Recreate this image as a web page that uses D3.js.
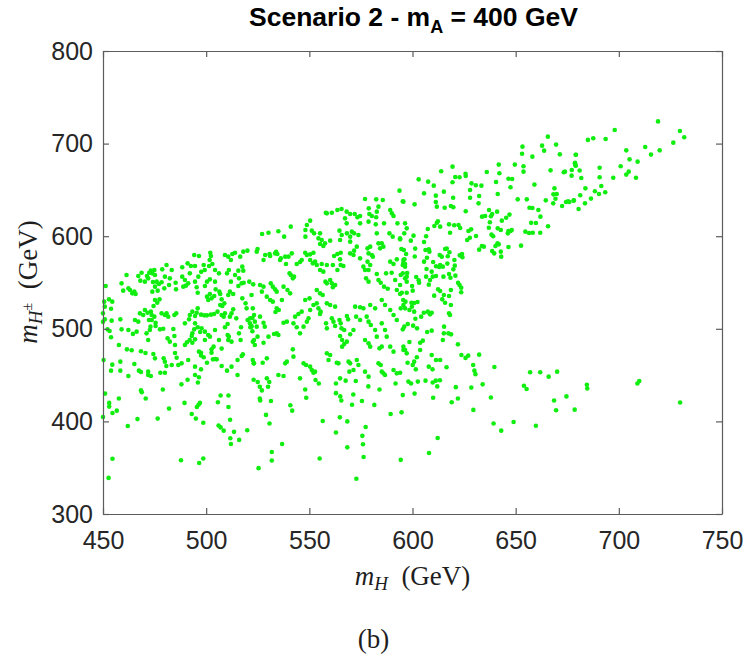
<!DOCTYPE html>
<html>
<head>
<meta charset="utf-8">
<script src="https://cdn.jsdelivr.net/npm/d3@7"></script>
<style>
  body { margin: 0; background: #ffffff; }
  svg { display: block; }
</style>
</head>
<body>
<svg id="chart" width="747" height="663"></svg>
<script>
// Axis ticks
const xTicks = [450, 500, 550, 600, 650, 700, 750];
const yTicks = [300, 400, 500, 600, 700, 800];

// Scan points [m_H, m_H±] in GeV, grouped by region of the plane
const upperBranch = [
  [719,724],[729.6,713.6],[731.7,706.8],[726.4,701],[698,714.7],[693.6,705],[687.6,705.7],[685,704],
  [679.2,688],[678.7,678.7],[679,676.5],[681,671],[677.1,665.4],[673.9,669.7],[681.8,662.9],[690.7,674],
  [690.7,663.6],[683.8,651.7],[691.5,654.2],[688.4,648.5],[690.4,645.6],[693.4,647.4],[681.3,644.2],
  [686.5,640.6],[678.1,638.4],[676,637],[674.4,637],[680.5,629.4],[683.6,635.5],[697.3,663.2],
  [700.9,675.5],[703.6,692.7],[705.2,683],[703.6,666.5],[704.8,669.7],[709.1,680.5],[708.3,663.2],
  [712.8,696.3],[715.6,688.1],[719.8,692.7]
];

const rightBand = [
  [665.6,707.5],[653.3,696.7],[653.1,689.1],[662.8,697.8],[663.8,692.4],[669.6,698.9],[658.1,685.9],
  [671.4,688.4],[679.1,688],[641.8,677.3],[649.6,677.3],[653.8,675.5],[653.8,669.7],[666.9,671.1],
  [673.3,669],[677.2,671.5],[678.8,679.4],[679.1,676.2],[619.4,675.1],[613.9,670.1],[636,669.3],
  [642.1,667.9],[625.7,667.5],[625.8,665],[603,661.4],[607.6,658.9],[610.3,654.6],[619.4,658.2],
  [620.7,663.9],[622.8,663.6],[628.6,657.1],[627.9,649.9],[630.7,655],[633.4,654.6],[640.5,658.5],
  [641.3,645.6],[646.5,662.1],[648.3,661.8],[659.1,655.7],[647.5,652.8],[668.8,651.7],[668.3,645.2],
  [669.9,645.6],[669.3,640.5],[615.2,648.1],[605.6,646.3],[611.3,643.8],[619.7,641.6],[627.9,641.6],
  [632.3,643.4],[651,639.8],[655.4,639.8],[664.6,638.7],[668.2,635.5],[672.5,632.6],[675.4,637.7],
  [678.2,638.7],[595.3,637.7],[601,634.4],[611.3,636.9],[611.8,631.9],[615.6,630.8],[618.6,632.6],
  [619.8,631.2],[625.8,626.9],[632,635.5],[633.7,621.1],[635.2,621.8],[638,621.5],[638.6,624],
  [637.1,628.3],[641,626.5],[645.4,620],[643.3,616.8],[647,623.3],[656.7,630.8],[658.1,630.5],
  [661,628.3],[662,621.1],[657.5,614.4],[659.8,614.3],[665.7,610.7],[656.5,603.5],[658.3,603.8],
  [661.9,603.8],[654.7,604.9],[652.6,589.8],[646.5,605.6],[647.5,605.6],[646.2,603.1],[648.1,606.7],
  [641.3,608.5],[642.8,606.7],[637,609.2],[639.1,599.9],[638.3,601.7],[641.2,592.3],[640.2,589.4],
  [641.8,591.2],[638.6,584],[639.6,581.5],[642.8,583.3],[643,577.9],[646.5,588.3],[633.6,589.4],
  [632.3,585.5],[634.6,588.7],[637.5,615],[628.4,607.4],[627.1,605.6],[627.8,598.4],[626.5,595.9],
  [630.8,600.2],[622.3,612.1],[623.1,608.9],[620.2,611.8],[617.7,612.8],[618.2,603.8],[613.4,610.3],
  [610.6,611],[612.3,616.1],[611.8,614.6],[607.4,607.8],[606.6,599.9],[605.6,593.8],[600.5,600.6],
  [599.2,595.2],[596,603.1],[594,596.6],[594.6,586.2],[595.8,585.1],[601.3,586.6],[601.1,578],
  [595.5,571.1],[596.1,575],[596.4,570],[594.3,558.1],[595.3,559.9],[597.2,556.3],[594,547.3],
  [597.4,560.3],[601.8,555.9],[603,552.4],[603.2,549.8],[599.8,546.2],[600.1,541.2],[597.2,539],
  [594.8,539],[596.6,529.3],[595.5,531.1],[599.5,528.2],[600.8,527.9],[602.4,528.9],[599.7,523.9],
  [598.5,520.3],[600.8,518.5],[594.3,522.1],[605.6,572.5],[606.8,564.6],[606.6,556.3],[607.9,547.7],
  [608.5,552.7],[609.8,556.3],[610.5,535.8],[612.4,542.6],[611.4,557],[609.3,561.7],[611.4,567.5],
  [613.4,568.9],[610,572.2],[607,576.8],[606.3,585.1],[607.9,585.8],[608.2,583.3],[613.2,579.7],
  [614.2,577.9],[615.8,586.2],[616.6,586.6],[612.9,566.8],[614.7,567.1],[616.9,570.4],[617.1,578.3],
  [617.9,582.6],[620.3,574.3],[622.9,579.3],[624,580.8],[624.2,577.2],[620.8,557.4],[622.1,549.8],
  [622.8,547.3],[623.6,544.4],[623.6,539.4],[620.5,568.2],[619.8,564.2],[617.7,559.2],[618.4,555.2],
  [615,556.3],[618.6,541.9],[617.7,535.4],[613.4,540.8],[615.2,536.5],[614.4,531.8],[615.8,528.2],
  [618.6,525.7],[617.7,516.7],[618.2,514.9],[615.3,502.3],[615.2,495.1],[614.7,487.9],[617.4,495.1],
  [618.7,494],[622,483.2],[607.4,518.5],[609.3,517.4],[608.5,515.6],[604.2,513.1],[605.5,517.4],
  [601.4,510.9],[600.3,503.4],[596,502.3],[595.3,499.4],[597.7,505.2],[602.2,500.5],[607.1,496.6],
  [609.3,498],[605,487.2],[603.7,485],[598.5,485.8],[595.6,477.1],[597.2,473.5],[603.7,477.1],
  [602.1,469.2],[600.8,464.5],[600.1,460.9],[601.6,456.2],[597.6,463.4],[609.3,471.7],[611.4,466.3],
  [607.9,459.1],[609.7,456.2],[613.4,466.3],[616.5,458.4],[623.7,471.7],[627,471],[625.7,468.6],
  [629.4,460.9],[632.3,472.1],[630,454.8],[630.5,451],[639.7,458.8],[657,453],[661.9,453],
  [666,448.3],[670.1,453.7]
];

const centralBand = [
  [577,640.2],[582.4,639.8],[585.6,639.1],[593.7,649.2],[595.6,637.3],[565.6,629.4],[568.1,626.5],
  [569.8,624],[572,624],[573.3,620.4],[574.6,621.8],[578.8,630.1],[579.1,624],[580.3,621.8],
  [583.5,631.9],[582.7,626.5],[582.4,620.4],[558,625.4],[567.3,619.3],[568.1,613.9],[574.6,613.9],
  [578.7,615.7],[582.2,612.8],[586.2,613.9],[589.2,628.3],[590,624.7],[590.8,621.8],[592.7,613.9],
  [596.4,613.9],[597.2,608.5],[550.4,616.8],[548.8,612.1],[541,610.3],[537.8,599.5],[527.1,602.4],
  [530.2,603.8],[535,605.3],[548.1,606.7],[551.2,606],[552.3,603.1],[548.1,599.5],[555.2,603.1],
  [554.4,597.7],[556,595.9],[557.6,592.3],[560.1,595.2],[555.2,591.6],[556.8,589.4],[564.6,606],
  [565.7,601.3],[564.9,595.9],[568.2,603.1],[569.8,599.5],[569.8,594.1],[570.6,604.9],[571.7,603.1],
  [573.8,601.3],[579.5,588.7],[578.2,586.9],[582.7,603.1],[583.5,592.3],[585.1,592.3],[585.9,588.7],
  [584.3,586.9],[588.8,603.1],[590.4,599.5],[594,597.7],[595.6,574.3],[596.9,580.8],[524.5,583.3],
  [524.9,586.1],[527.8,574.3],[528.6,579.7],[530.7,580.8],[531,578.6],[533.4,581.5],[533.9,583.2],
  [534.5,580.8],[536.2,576.1],[535.8,574.3],[538.3,577.9],[539.9,577.9],[541.5,581.5],[538.7,570],
  [543.9,570],[545.5,572.2],[546.3,574.3],[540.4,559.9],[541,558.1],[542.6,556.3],[542,554.5],
  [548,582.2],[548.8,579.7],[550.4,580.4],[552,582.2],[550.4,574.3],[551.7,570.7],[552.8,572.5],
  [553.6,568.9],[556,570],[558.5,568.9],[555.2,563.5],[556.8,561.7],[562,578.6],[563.6,580.8],
  [565.2,582.2],[564.9,575],[565.2,568.9],[566.5,567.8],[561.4,568.9],[563.6,563.5],[560.1,552.7],
  [557.8,550.9],[558.5,549.1],[560.9,549.1],[562.5,547.3],[561.4,544.8],[569.8,581.5],[571.4,579.7],
  [571.7,584.4],[573,588.7],[574.6,576.1],[576.2,567.1],[577,563.5],[578.7,581.5],[580.3,579.7],
  [580.8,577.9],[578.2,572.5],[579.5,568.9],[578.7,563.5],[577.5,554.5],[578.7,550.9],[582.7,559.2],
  [583.5,552.7],[584.6,549.8],[589.2,572.5],[590.8,570],[592.4,575],[595.3,568.9],[596.4,567.1],
  [587.2,559.9],[589.9,560.6],[591.6,552.7],[596.4,554.5],[597.2,550.9],[586.2,545.5],[588,543.3],
  [592.4,541.9],[594,537.6],[526.1,547.3],[527.8,545.5],[527,540.1],[529.4,534.7],[531.3,549.1],
  [532.3,545.5],[533.4,542.6],[534.2,540.1],[537.5,545.5],[539.4,541.9],[540.7,538.3],[531,531.1],
  [532.3,529.3],[534.2,522.1],[533.6,518.1],[535.2,520.3],[536.7,531.1],[522.6,522.1],[523.2,514.9],
  [523.6,507.7],[524.5,502.3],[521.3,511.3],[521.9,502.3],[526.1,513.1],[527.8,506.6],[528.4,502.3],
  [524.9,491.5],[522.6,486.1],[523.6,482.5],[527.8,485],[530.2,491.5],[532.9,494.4],[534.2,495.1],
  [535,493.3],[537.5,506.6],[539.1,507.7],[543.1,513.1],[544.7,516],[546.3,518.5],[542.3,505.9],
  [543.9,501.6],[545.5,495.1],[547.2,502.3],[548.8,507.7],[549.6,511.3],[550.4,520.3],[552,525.7],
  [553.6,527.5],[554.4,522.1],[555.5,518.5],[555.2,516],[548,531.1],[550.1,532.9],[553.6,541.9],
  [555.2,538.3],[556.5,536.5],[558.5,527.5],[560.1,525.7],[562.5,523.9],[560.9,511.3],[561.7,507.7],
  [562.5,503],[558.1,505.9],[558.5,500.5],[564.6,509.5],[565.2,505.9],[565.6,500.5],[566.9,498.7],
  [568.2,513.8],[568.8,510.2],[564.9,492.2],[565.9,487.9],[566.9,483.6],[565.9,480.7],[568.2,486.1],
  [569.8,494.1],[571.4,498.7],[572.2,523.9],[574.6,523.2],[576.2,522.1],[572.7,513.1],[574.6,509.5],
  [577.8,513.1],[578.7,507.7],[579.8,504.1],[579.5,525.7],[581.9,522.1],[585.1,531.1],[586.7,525.7],
  [589.2,520.3],[590.8,514.9],[592.4,509.5],[595.6,525.7],[596.4,522.1],[585.1,505.9],[586.7,498.7],
  [587.5,491.5],[581.9,498.7],[582.7,491.5],[577,487.9],[578.7,484.3],[579.5,480.7],[584,478.9],
  [585.1,480.7],[589.2,480.7],[590.8,475.3],[595.6,480.7],[596.4,477.1],[522.6,466.3],[523.2,462.7],
  [527.4,463.4],[529.4,468.1],[538.3,462.7],[539.1,464.5],[535,450.1],[537.5,449],[529.4,446.5],
  [564.9,446.5],[545.5,446.5],[542,477.8],[542.3,469.9],[547.2,462.7],[548.4,460.9],[550.4,459.1],
  [551.2,455.5],[552,452.6],[552.8,453.7],[558.5,473.5],[559.3,466.3],[560.1,471.7],[563.3,463.4],
  [564.1,462.7],[569,464.5],[569.8,462.7],[573,466.3],[573.8,460.9],[569.4,453.7],[571.4,455.5],
  [577,453.7],[578.7,448.3],[585.1,453.7],[585.9,451.9],[586.7,450.1],[583.5,462.7],[584.6,460.9],
  [590.8,455.5],[592.4,451.9],[594,452.6],[558.5,624.7],[560.9,625.4],[563.6,628.3]
];

const leftBand = [
  [494.2,579.7],[496.5,578.6],[502,582.2],[502.3,578.6],[501.7,574.3],[503,570],[501.4,567.8],
  [509.1,579.7],[510.7,577.9],[512.7,580.8],[514,582.2],[512,574.3],[516.5,577.9],[518,583.3],
  [520,584.4],[517.5,567.1],[518,562.8],[494.6,567.8],[498.8,568.9],[499.3,563.5],[488.4,566.4],
  [491,570.7],[492.6,567.8],[480.8,568.9],[478.7,564.2],[483.3,563.5],[474.9,563.5],[473.2,562.8],
  [472.4,560.6],[473.9,559.9],[475.2,558.1],[468.7,560.6],[467.1,557],[468.1,552],[470.3,550.9],
  [471.3,557],[471.9,554.5],[461.4,558.1],[459,549.1],[463.1,541.9],[462.3,543.7],[464.2,538.3],
  [465.2,540.1],[459.8,541.2],[465.8,537.6],[474.2,550.5],[476,550.9],[477.1,548.4],[478.4,550.2],
  [475.2,545.5],[473.9,540.1],[476.5,541.2],[479.7,543.7],[482,547.3],[485.4,542.6],[488.4,556.3],
  [489.7,552.7],[492.1,559.9],[491.3,549.1],[490.2,546.6],[494.6,550.9],[495.4,544.8],[496.2,556.3],
  [497.6,561.5],[500.4,550.9],[501.8,553.4],[499.4,546.2],[495.9,539],[504.3,550.9],[504.6,542.6],
  [501.8,537.6],[500.4,534.7],[502.6,532.9],[503.9,535.4],[501,531.1],[506.4,540.1],[506.8,537.6],
  [507.5,531.8],[512,550.9],[511.5,540.1],[510.7,536.5],[513.1,537.6],[515.6,546.2],[517.2,549.1],
  [518.2,549.8],[520.9,550.9],[522.8,548],[517.5,532.9],[519.1,527.5],[522,536.5],[451.3,546.2],
  [452.9,531.8],[450.6,529.3],[450.9,523.9],[454.5,529.3],[453.9,521.7],[450,516.7],[450.9,510.2],
  [450,507.5],[454.2,508.8],[452.2,499.4],[453.2,497.6],[458.4,510.2],[459,499.4],[453.9,490.8],
  [465.5,509.5],[467.1,507.7],[466.3,496.9],[467.9,516.7],[469.5,514.9],[470.3,520.3],[471.6,517.4],
  [472.3,509.5],[473.6,509.5],[473.2,518.5],[473.6,514.9],[474.9,513.1],[475.2,531.1],[476.3,528.2],
  [474.5,524.6],[477.4,531.8],[475.5,506.6],[475.5,503],[473,502.3],[472.7,498.7],[471.1,495.1],
  [471.9,487.9],[462.3,498.7],[464.5,494.5],[478.4,516.7],[480,514.9],[481.6,513.1],[480.8,516.7],
  [484.6,514.9],[485.5,516.7],[477.6,499.4],[479.2,500.1],[481.3,489.7],[482.4,486.1],[484.1,499.8],
  [484.6,492.2],[484.9,482.5],[489.7,505.9],[492.1,514.9],[491.7,510.2],[493.3,518.5],[494.6,513.8],
  [495.4,517.4],[495.9,522.1],[497.5,515.3],[499.1,514.5],[500.4,514.5],[502.3,515.3],[503.8,516],
  [505.5,518.5],[507.8,524.6],[508.8,527.5],[506.8,525.7],[507.5,514.9],[508.5,513.1],[509.1,516.7],
  [511.5,513.1],[512.3,516.7],[513.1,521],[514.6,511.3],[519.6,522.1],[520.1,509.5],[521.2,505.9],
  [522,503],[522.4,511.6],[494.6,505.9],[495.9,501.6],[494.2,499.4],[493.3,495.1],[493,492.2],
  [492,487.9],[493.3,485],[494.6,488.6],[497.8,500.5],[497.1,496.5],[499.4,487.9],[496.5,475.3],
  [497.5,471.3],[498.8,469.2],[497.5,474.2],[502.6,477.8],[502.6,474.2],[503.3,467],[504.3,467.4],
  [505.1,467],[507.5,478.6],[510.4,493.3],[511,491.5],[510.7,487.9],[506.2,487.9],[509.1,501.6],
  [510.4,505.2],[512.3,486.1],[515.9,495.1],[516.7,487.9],[516.9,501.6],[521.4,501.6],[522.4,497.3],
  [523.2,487.9],[515.2,466.3],[517.2,470.6],[517.8,472.4],[512.3,459.1],[510.1,454.8],[507.5,459.8],
  [523,462.7],[515.2,450.1],[500.4,463.4],[489.7,482.5],[490.7,485.4],[491.3,466.3],[488.1,462.7],
  [486.5,460.9],[485.7,468.8],[484.9,473.9],[494.6,459.1],[497.5,456.2],[494.6,450.1],[496.5,447.6],
  [479.4,468.1],[480,464.5],[480.7,459.8],[477.8,452.6],[480,452.6],[471.9,450.1],[473.2,449],
  [471.9,453.7],[467.4,454.8],[468.4,453.3],[465.2,462],[462.3,449],[458.4,464.5],[458.4,454.8],
  [454.5,461.3],[453.9,454.8],[450.3,466.3],[463.9,476.9],[461.6,477.8],[457.7,482.5],[468.4,475.8],
  [470.6,473.9],[474.4,472.8],[475.2,468.1],[483.3,460.9],[515.6,562.8],[514,558.1],[515.9,554.5],
  [511,563.5],[510.1,559.9],[504.3,563.5],[506.2,559.9],[488.9,545.5],[480,556.3],[482.4,554.5],
  [485.2,549.8],[499.4,496.9],[501,493.3],[501.8,491.5],[504.3,498.7],[503.6,480.7]
];

const lowerTail = [
  [451,430],[453,420],[453,416],[454.6,409],[456.7,411.6],[457.7,424.7],[462,395],[466.7,402.5],
  [468.4,433.5],[468.8,431.6],[470.7,424.7],[476.5,403],[479,434.5],[482,413.8],[488,440],[489.5,420],
  [491,445],[493,408],[495,403],[495.5,415.6],[496.3,418],[497,420],[496,442],[498.6,398.5],
  [505.7,420.7],[507,428],[506,395.6],[507,393.5],[508.5,390],[510.8,428],[510.8,415.6],[511.6,401.8],
  [513.5,388.7],[511.7,381.8],[512,375.6],[516,380],[519.9,390.5],[523,445],[525,442.5],[526,437.5],
  [527,433.5],[526,424.7],[526.2,422.5],[530,437.5],[530.6,442.5],[531.4,422],[529,407],[530.7,397.8],
  [540.8,417.5],[541.7,411.6],[536.8,375.6],[531.8,367],[531.8,357.8],[525.4,349.5],[548,434.5],
  [548.5,425.5],[553,444.7],[554.6,441],[556.5,400.4],[555,360],[562.9,441],[562.9,430.5],[565,427],
  [565.5,422.5],[567.6,444],[572.5,443.6],[571.3,429],[570.7,418],[575.5,422],[564.8,404.4],
  [568.4,400],[562.9,388],[568.4,372],[575.7,384.4],[576,375.3],[577.3,394],[576.3,361.5],[572.8,338],
  [578.6,437.8],[581.5,417.8],[584,434.5],[589.4,408],[591.8,441],[594.7,409.8],[595.3,428.4],
  [594.3,358.5],[598,443],[599.3,441],[602.6,443],[606.3,444],[609.8,442],[611.3,444],[613.3,444.5],
  [601,430],[610,425.5],[612,437.8],[612.2,382],[608,365.8],[619,420.7],[622,424.7],[621,437],
  [628.5,436.5],[629.5,412.4],[634,440],[638,425.8],[639.3,397.8],[643,390],[649,399.3],[654,438.5],
  [655.3,435],[659.8,395.3],[668.6,422.5],[669.6,412],[674.6,427],[678.6,412.7],[684.5,439.6],
  [684.7,435.6],[709,441],[709.9,443.6],[729.7,420.4],[452.7,339],[454.6,359.6],[487.8,358],
  [496.6,355],[498.6,360],[450,404.7]
];

const allPoints = [].concat(upperBranch, rightBand, centralBand, leftBand, lowerTail);

const svg = d3.select("#chart");
const x = d3.scaleLinear().domain([450, 750]).range([103, 722]);
const y = d3.scaleLinear().domain([300, 800]).range([514, 51]);

const axisColor = "#5c5c5c";
const labelColor = "#262626";
const sansFont = "'Liberation Sans', Arial, Helvetica, sans-serif";
const serifFont = "'Liberation Serif', 'Times New Roman', serif";

// scatter markers
svg.append("g")
  .selectAll("circle")
  .data(allPoints)
  .join("circle")
  .attr("cx", d => x(d[0]))
  .attr("cy", d => y(d[1]))
  .attr("r", 2.3)
  .attr("fill", "#10ee10");

function styleAxis(g) {
  g.attr("font-family", sansFont).attr("font-size", 25);
  g.select(".domain").attr("stroke", axisColor).attr("stroke-width", 1.2);
  g.selectAll(".tick line").attr("stroke", axisColor).attr("stroke-width", 1.2);
  g.selectAll(".tick text").attr("fill", labelColor);
}

// box with inward ticks on all sides
svg.append("g")
  .attr("transform", "translate(0,514)")
  .call(d3.axisBottom(x).tickValues(xTicks).tickSizeInner(-6).tickSizeOuter(0).tickPadding(17))
  .call(styleAxis);

svg.append("g")
  .attr("transform", "translate(0,51)")
  .call(d3.axisTop(x).tickValues(xTicks).tickSizeInner(-6).tickSizeOuter(0).tickFormat(() => ""))
  .call(styleAxis);

svg.append("g")
  .attr("transform", "translate(103,0)")
  .call(d3.axisLeft(y).tickValues(yTicks).tickSizeInner(-6).tickSizeOuter(0).tickPadding(10))
  .call(styleAxis);

svg.append("g")
  .attr("transform", "translate(722,0)")
  .call(d3.axisRight(y).tickValues(yTicks).tickSizeInner(-6).tickSizeOuter(0).tickFormat(() => ""))
  .call(styleAxis);

// title
const title = svg.append("text")
  .attr("x", 413.5).attr("y", 26)
  .attr("text-anchor", "middle")
  .attr("font-family", sansFont)
  .attr("font-weight", "bold")
  .attr("font-size", 26.5)
  .attr("fill", "#000");
title.append("tspan").text("Scenario 2 - m");
title.append("tspan").attr("dy", 7).attr("font-size", 18).text("A");
title.append("tspan").attr("dy", -7).text(" = 400 GeV");

// x axis label
const xl = svg.append("text")
  .attr("x", 412.5).attr("y", 585)
  .attr("text-anchor", "middle")
  .attr("font-family", serifFont)
  .attr("font-size", 27)
  .attr("fill", "#1e1e1e");
xl.append("tspan").attr("font-style", "italic").text("m");
xl.append("tspan").attr("font-style", "italic").attr("font-size", 19).attr("dy", 5).text("H");
xl.append("tspan").attr("dy", -5).text("\u2002(GeV)");

// y axis label
const yl = svg.append("text")
  .attr("transform", "translate(37,282) rotate(-90)")
  .attr("text-anchor", "middle")
  .attr("font-family", serifFont)
  .attr("font-size", 27)
  .attr("fill", "#1e1e1e");
yl.append("tspan").attr("font-style", "italic").text("m");
yl.append("tspan").attr("font-style", "italic").attr("font-size", 19).attr("dy", 5).text("H");
yl.append("tspan").attr("font-size", 14).attr("dy", -10).text("\u00B1");
yl.append("tspan").attr("dy", 5).text("\u2002(GeV)");

// panel caption
svg.append("text")
  .attr("x", 373.5).attr("y", 648)
  .attr("text-anchor", "middle")
  .attr("font-family", serifFont)
  .attr("font-size", 27)
  .attr("fill", "#1e1e1e")
  .text("(b)");
</script>
</body>
</html>
